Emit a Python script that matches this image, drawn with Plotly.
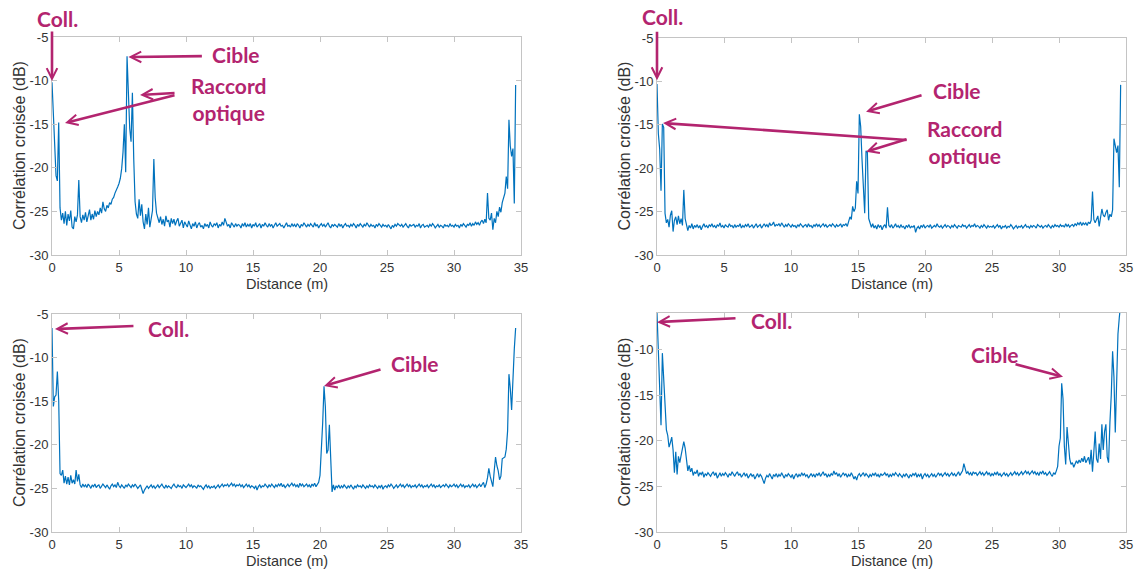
import plotly.graph_objects as go
from plotly.subplots import make_subplots

# ---------------- data ----------------
STEP_M = 0.1  # sampling step of the distance axis (m)

corr_a = [
    -10.2, -14.3, -17.8, -20.9, -21.5, -14.8, -24.6, -26.0, -25.2, -26.4,
    -25.0, -26.6, -25.3, -26.1, -24.9, -26.8, -27.0, -25.6, -26.2, -25.4,
    -21.4, -25.6, -26.3, -25.4, -26.0, -25.1, -26.2, -25.5, -24.8, -26.0,
    -25.3, -25.9, -24.9, -25.6, -25.0, -25.4, -24.6, -25.2, -23.9, -24.7,
    -25.0, -24.3, -24.6, -24.0, -24.2, -23.6, -23.4, -22.9, -22.6, -22.2,
    -21.8, -21.2, -20.1, -18.2, -15.0, -20.5, -7.2, -12.5, -15.5, -17.0,
    -11.4, -19.0, -23.9, -25.3, -25.8, -23.6, -25.5, -24.2, -26.2, -27.0,
    -25.3, -26.5, -24.6, -26.8, -25.7, -24.9, -19.0, -23.4, -25.2, -25.9,
    -26.3, -25.6, -26.5, -25.9, -26.7, -25.5, -26.2, -26.0, -26.8, -25.8,
    -26.4, -25.9, -26.6, -26.1, -25.8, -26.7, -26.3, -26.0, -26.9, -26.2,
    -26.5, -26.8, -26.1, -26.6, -27.0, -26.4, -26.7, -26.2, -26.9, -26.5,
    -26.3, -26.8, -26.6, -27.0, -26.4, -26.7, -26.5, -26.9, -26.2, -26.6,
    -26.8, -26.4, -26.6, -26.3, -26.9, -26.5, -26.7, -26.2, -26.6, -25.8,
    -26.4, -26.7, -26.5, -26.9, -26.3, -26.6, -26.8, -26.4, -26.7, -26.5,
    -26.6, -26.9, -26.4, -26.7, -26.3, -26.8, -26.5, -26.7, -26.4, -26.9,
    -26.5, -26.7, -26.3, -26.8, -26.6, -26.4, -26.9, -26.5, -26.7, -26.3,
    -26.6, -26.8, -26.4, -26.7, -26.5, -26.9, -26.6, -26.3, -26.7, -26.5,
    -26.4, -26.7, -26.6, -26.9, -26.5, -26.3, -26.7, -26.6, -26.8, -26.4,
    -26.7, -26.5, -26.8, -26.4, -26.6, -26.9, -26.5, -26.7, -26.3, -26.6,
    -26.8, -26.5, -26.7, -26.4, -26.6, -26.8, -26.3, -26.7, -26.5, -26.9,
    -26.6, -26.4, -26.7, -26.5, -26.8, -26.6, -26.3, -26.7, -26.9, -26.5,
    -26.7, -26.5, -26.6, -26.8, -26.4, -26.7, -26.5, -26.9, -26.6, -26.4,
    -26.7, -26.6, -26.8, -26.5, -26.7, -26.4, -26.6, -26.9, -26.5, -26.7,
    -26.4, -26.6, -26.8, -26.5, -26.7, -26.3, -26.6, -26.8, -26.5, -26.7,
    -26.6, -26.9, -26.5, -26.7, -26.4, -26.6, -26.8, -26.5, -26.7, -26.6,
    -26.8, -26.5, -26.7, -27.0, -26.6, -26.8, -26.5, -26.7, -26.4, -26.6,
    -26.7, -26.5, -26.8, -26.6, -26.4, -26.7, -26.9, -26.5, -26.7, -26.6,
    -26.5, -26.8, -26.6, -26.7, -26.4, -26.9, -26.6, -26.5, -26.8, -26.7,
    -26.6, -26.8, -26.5, -26.7, -26.4, -26.6, -26.9, -26.7, -26.5, -26.8,
    -26.6, -26.7, -26.9, -26.5, -26.7, -26.6, -26.8, -26.4, -26.7, -26.6,
    -26.8, -26.5, -26.7, -26.6, -26.9, -26.5, -26.7, -26.4, -26.6, -26.8,
    -26.5, -26.6, -26.3, -26.7, -26.4, -26.6, -26.2, -26.5, -26.3, -26.6,
    -26.2, -26.0, -26.4, -25.9, -26.3, -22.9, -25.8, -26.0, -25.2, -27.1,
    -25.8, -26.3, -25.0, -25.6, -24.5, -25.1, -24.0, -23.5, -22.9, -21.0,
    -22.4, -14.5, -17.5, -18.7, -17.8, -24.1, -10.5,
]

corr_b = [
    -10.3, -16.0, -17.8, -22.6, -14.9, -15.3, -25.2, -26.3, -25.9, -26.8,
    -25.4, -24.9, -27.3, -26.0, -25.6, -26.5, -25.5, -26.4, -25.8, -26.6,
    -22.5, -25.8, -26.5, -27.2, -26.6, -26.9, -26.4, -27.0, -26.6, -26.8,
    -26.5, -26.9, -26.6, -27.1, -26.7, -26.4, -26.8, -26.6, -26.9, -26.5,
    -26.7, -26.4, -26.8, -26.6, -26.9, -26.5, -26.7, -26.3, -26.8, -26.6,
    -26.9, -26.5, -26.7, -26.8, -26.4, -26.7, -26.6, -26.9, -26.5, -26.8,
    -26.6, -26.7, -26.4, -26.9, -26.6, -26.8, -26.5, -26.7, -26.4, -26.8,
    -26.7, -26.5, -26.9, -26.6, -26.4, -26.8, -26.7, -26.5, -26.9, -26.6,
    -26.4, -26.7, -26.5, -26.8, -26.3, -26.6, -26.5, -26.2, -26.7, -26.5,
    -26.6, -26.4, -26.7, -26.3, -26.6, -26.8, -26.5, -26.7, -26.4, -26.6,
    -26.8, -26.5, -26.7, -26.6, -26.9, -26.5, -26.7, -26.4, -26.6, -26.8,
    -26.6, -26.5, -26.8, -26.4, -26.7, -26.6, -26.9, -26.5, -26.7, -26.4,
    -26.7, -26.5, -26.8, -26.6, -26.4, -26.7, -26.5, -26.8, -26.6, -26.5,
    -26.7, -26.4, -26.6, -26.8, -26.5, -26.7, -26.6, -26.4, -26.8, -26.5,
    -26.6, -26.4, -26.7, -26.0, -25.6, -25.9, -24.4, -25.0, -24.6, -21.5,
    -22.9, -13.8, -15.2, -19.0, -22.1, -25.2, -18.0, -18.2, -25.8, -26.3,
    -26.8, -26.4, -26.9, -26.6, -27.0, -26.5, -26.8, -26.6, -27.1, -26.7,
    -26.5, -26.9, -24.5, -26.6, -26.8, -26.5, -26.9, -26.7, -26.4, -26.8,
    -26.6, -26.9, -26.5, -26.8, -26.7, -27.0, -26.6, -26.8, -26.5, -26.9,
    -26.7, -26.8, -26.6, -27.4, -26.9, -26.7, -27.0, -26.6, -26.8, -26.5,
    -26.9, -26.7, -26.6, -26.8, -26.5, -26.9, -26.7, -26.6, -26.8, -26.4,
    -26.7, -26.8, -26.6, -26.9, -26.7, -26.5, -26.8, -26.6, -26.7, -26.9,
    -26.6, -26.8, -26.5, -26.7, -26.9, -26.6, -26.7, -26.8, -26.5, -26.7,
    -26.6, -26.9, -26.7, -26.5, -26.8, -26.6, -26.7, -26.4, -26.8, -26.6,
    -26.7, -26.9, -26.6, -26.8, -26.5, -26.7, -26.9, -26.6, -26.8, -26.7,
    -26.8, -26.6, -26.9, -26.7, -26.5, -26.8, -26.6, -27.0, -26.7, -26.8,
    -26.6, -26.9, -26.7, -26.8, -26.5, -26.7, -27.0, -26.8, -26.6, -26.9,
    -26.7, -26.8, -26.6, -26.9, -26.7, -26.5, -26.8, -26.7, -26.9, -26.6,
    -26.8, -26.6, -26.7, -26.9, -26.5, -26.7, -26.8, -26.6, -26.9, -26.7,
    -26.6, -26.8, -26.5, -26.7, -26.9, -26.6, -26.8, -26.5, -26.7, -26.6,
    -26.8, -26.5, -26.7, -26.6, -26.8, -26.4, -26.7, -26.5, -26.8, -26.6,
    -26.5, -26.7, -26.4, -26.6, -26.3, -26.5, -26.2, -26.6, -26.3, -26.5,
    -26.3, -26.6, -26.2, -26.4, -26.0, -22.7, -25.9, -26.3, -25.8, -25.5,
    -26.7, -25.8, -24.7, -25.4, -25.6, -25.1, -24.8, -26.0, -25.3, -25.6,
    -24.8, -16.6, -17.4, -18.2, -17.4, -22.2, -10.4,
]

corr_c = [
    -6.6, -15.6, -14.5, -14.3, -11.6, -14.9, -23.3, -23.5, -22.9, -24.4,
    -23.6, -24.5, -23.7, -24.6, -23.5, -24.4, -24.0, -24.5, -22.9, -24.2,
    -23.4, -24.6, -24.9, -24.5, -24.8, -24.6, -24.9, -24.5, -24.7, -25.0,
    -24.6, -24.8, -24.5, -24.9, -24.7, -24.6, -25.0, -24.8, -24.5, -24.7,
    -24.9, -24.6, -24.8, -25.1, -24.7, -24.5, -24.8, -24.6, -24.9, -24.3,
    -24.7, -24.9, -24.6, -24.8, -25.0, -24.6, -24.8, -24.5, -24.7, -24.9,
    -24.6, -24.8, -24.5, -24.7, -25.0, -24.8, -24.6, -25.1, -25.6, -25.2,
    -24.9, -24.7, -25.0, -24.8, -24.6, -24.9, -24.7, -25.0, -24.8, -24.6,
    -24.9, -24.7, -24.5, -24.8, -25.0, -24.6, -24.9, -24.7, -24.8, -25.0,
    -24.7, -24.5, -24.8, -24.9, -24.6, -24.8, -24.7, -25.0, -24.6, -24.8,
    -24.9, -24.7, -24.5, -24.8, -24.6, -24.9, -24.7, -24.8, -25.0, -24.6,
    -24.8, -24.7, -24.9, -25.1, -24.8, -24.6, -24.9, -24.7, -25.0, -24.8,
    -24.9, -24.7, -25.0, -24.8, -24.6, -24.9, -24.7, -24.5, -24.8, -24.6,
    -24.7, -24.5, -24.8, -24.6, -24.4, -24.7, -24.5, -24.8, -24.6, -24.7,
    -24.5, -24.8, -24.6, -24.9, -24.7, -24.5, -24.8, -24.6, -24.9, -24.7,
    -24.8, -25.0, -24.7, -25.2, -24.8, -24.6, -24.9, -24.7, -24.8, -24.5,
    -24.7, -24.9, -24.6, -24.8, -24.5, -24.7, -24.9, -24.6, -24.8, -24.5,
    -24.7, -24.4, -24.8, -24.6, -24.9, -24.7, -24.5, -24.8, -24.6, -24.4,
    -24.7, -24.5, -24.8, -24.6, -24.9, -24.4, -24.7, -24.5, -24.8, -24.6,
    -24.5, -24.8, -24.6, -24.9, -24.5, -24.7, -24.4, -24.8, -24.6, -24.3,
    -23.5, -21.0, -17.5, -13.3, -15.6, -21.0, -20.6, -17.7, -22.1, -25.4,
    -24.6, -25.2, -24.7, -24.9, -24.6, -25.0, -24.7, -24.9, -24.6, -24.8,
    -25.0, -24.7, -24.9, -24.6, -24.8, -25.1, -24.7, -24.9, -24.6, -24.8,
    -24.7, -24.9, -24.6, -24.8, -25.0, -24.7, -24.9, -24.6, -24.8, -24.7,
    -24.9, -24.6, -24.8, -25.0, -24.7, -24.9, -24.6, -25.1, -24.8, -24.7,
    -24.9, -24.6, -24.8, -24.5, -24.7, -25.0, -24.8, -24.6, -24.9, -24.7,
    -24.5, -24.8, -24.6, -24.9, -24.7, -24.5, -24.8, -24.6, -24.9, -24.7,
    -24.8, -24.6, -24.9, -24.7, -24.5, -24.8, -24.6, -24.9, -24.7, -24.8,
    -24.6, -24.9, -24.7, -24.5, -24.8, -24.6, -24.9, -24.7, -24.8, -24.6,
    -24.9, -24.7, -24.6, -24.8, -24.5, -24.7, -24.9, -24.6, -24.8, -24.7,
    -24.5, -24.8, -24.6, -24.9, -24.7, -24.5, -24.8, -24.6, -24.9, -24.7,
    -24.8, -24.6, -24.9, -24.7, -24.5, -24.8, -24.6, -24.9, -24.7, -24.5,
    -24.8, -24.6, -24.3, -24.9, -24.5, -23.8, -22.7, -23.6, -24.2, -24.8,
    -23.0, -21.4, -22.4, -23.0, -24.0, -23.6, -21.6, -21.5, -21.4, -20.5,
    -18.4, -11.9, -13.5, -16.0, -12.1, -9.0, -6.6,
]

corr_d = [
    -6.0, -10.5, -12.8, -18.3, -10.4, -13.0, -16.2, -18.8, -19.4, -20.7,
    -20.2, -19.6, -21.0, -23.5, -21.2, -23.7, -21.7, -22.4, -21.6, -20.6,
    -20.1, -20.8, -22.4, -23.3, -22.7, -23.4, -23.0, -23.8, -23.4, -23.6,
    -23.2, -23.9, -23.5, -23.7, -23.4, -24.0, -23.6, -23.8, -23.5, -23.7,
    -23.9, -23.6, -23.4, -23.8, -23.5, -24.1, -23.7, -23.5, -23.9, -23.6,
    -23.8, -23.5, -23.7, -24.0, -23.6, -23.8, -23.4, -23.7, -23.9, -23.6,
    -23.4, -23.8, -23.6, -24.0, -23.7, -23.5, -23.9, -23.6, -24.1, -23.8,
    -23.6, -23.9, -23.7, -24.2, -23.8, -23.6, -24.0, -23.7, -23.9, -24.3,
    -24.7, -24.1, -23.8, -24.0, -23.6, -23.9, -24.2, -23.7, -23.9, -23.6,
    -24.0, -23.7, -23.9, -23.5, -23.8, -24.1, -23.7, -23.9, -23.6, -23.8,
    -24.0, -23.7, -24.2, -23.8, -23.6, -24.0, -23.7, -23.9, -23.5, -23.8,
    -23.6, -23.9, -23.7, -24.1, -23.8, -23.6, -23.9, -23.7, -24.0, -23.6,
    -23.8, -23.5, -23.9, -23.7, -23.4, -23.8, -23.6, -24.0, -23.7, -23.9,
    -23.6, -23.8, -23.3, -23.7, -23.5, -23.9, -23.6, -24.0, -23.7, -23.5,
    -23.8, -23.6, -24.0, -23.7, -23.9, -23.5, -23.8, -24.2, -23.9, -24.3,
    -23.8, -23.6, -23.9, -23.7, -23.5, -23.9, -23.6, -23.8, -24.0, -23.7,
    -23.9, -23.6, -23.8, -23.5, -23.9, -23.7, -24.0, -23.6, -23.8, -23.7,
    -23.5, -23.8, -23.6, -24.0, -23.7, -23.9, -23.6, -23.8, -23.5, -23.7,
    -23.9, -23.6, -23.8, -24.0, -23.7, -23.9, -23.6, -23.8, -24.1, -23.7,
    -23.9, -23.6, -23.8, -23.5, -24.0, -23.7, -23.9, -23.6, -24.2, -23.8,
    -23.6, -23.9, -23.7, -24.0, -23.8, -23.6, -23.9, -23.7, -24.0, -23.8,
    -23.5, -23.8, -23.6, -23.9, -23.7, -23.5, -23.8, -23.6, -23.9, -23.7,
    -23.5, -23.8, -23.6, -23.9, -23.7, -23.4, -23.8, -23.6, -23.3, -22.5,
    -23.2, -23.6, -23.4, -23.7, -23.5, -23.8, -23.4, -23.6, -23.5, -23.8,
    -23.6, -23.4, -23.7, -23.5, -23.8, -23.6, -23.4, -23.7, -23.5, -23.9,
    -23.6, -23.8, -23.5, -23.7, -23.4, -23.8, -23.6, -23.9, -23.7, -23.5,
    -23.8, -23.6, -23.9, -23.7, -23.5, -23.8, -23.6, -23.4, -23.7, -23.5,
    -23.8, -23.6, -23.4, -23.7, -23.5, -23.3, -23.6, -23.4, -23.7, -23.5,
    -23.3, -23.6, -23.4, -23.7, -23.5, -23.8, -23.4, -23.6, -23.3, -23.7,
    -23.5, -23.8, -23.6, -23.4, -23.7, -23.9, -23.5, -23.7, -23.3, -22.8,
    -20.6, -19.7, -13.7, -15.4, -20.6, -22.6, -18.5, -20.6, -22.0, -22.6,
    -22.4, -22.9, -22.6, -22.2, -22.5, -22.1, -22.4, -21.9, -22.3, -21.7,
    -22.4, -22.0, -21.8, -22.6, -21.0, -23.4, -21.5, -19.0, -22.0, -22.4,
    -20.3, -22.0, -18.2, -21.0, -19.0, -18.2, -21.8, -22.4, -18.0, -15.0,
    -10.2, -13.0, -19.1, -12.6, -8.3, -6.5, -5.0,
]

x_ticks = [0, 5, 10, 15, 20, 25, 30, 35]
y_ticks = [-30, -25, -20, -15, -10, -5]
y_ranges = [[-30, -5], [-30, -5], [-30, -5], [-30, -6]]
series = [corr_a, corr_b, corr_c, corr_d]

x_label = "Distance (m)"
y_label = "Corrélation croisée (dB)"

# ---------------- figure ----------------
W, H = 1137, 570
LINE = "#0072BD"
MAG = "#B3246F"
AXC = "#c4c4c4"
TXT = "#333333"
FONT = "Liberation Sans, Arial, sans-serif"
AFONT = "Lato, Open Sans, sans-serif"

fig = make_subplots(rows=2, cols=2)

# plot-area boxes in pixels: (left, right, top, bottom)
boxes = [(52, 521, 37, 255), (657, 1126, 38, 255),
         (52, 521, 314, 532), (657, 1126, 313, 532)]
cells = [(1, 1), (1, 2), (2, 1), (2, 2)]

for k, (ys, (r, c), box, yr) in enumerate(zip(series, cells, boxes, y_ranges)):
    dist = [round(i * STEP_M, 1) for i in range(len(ys))]
    fig.add_trace(go.Scatter(x=dist, y=ys, mode="lines",
                             line=dict(color=LINE, width=1.2),
                             showlegend=False, hoverinfo="skip"),
                  row=r, col=c)
    l, rr, t, b = box
    n = "" if k == 0 else str(k + 1)
    fig.layout["xaxis" + n].update(
        domain=[l / W, rr / W], range=[0, 35], tickvals=x_ticks,
        ticktext=[str(v) for v in x_ticks], automargin=False,
        showline=True, mirror="ticks", linecolor=AXC, linewidth=1,
        ticks="inside", ticklen=5, tickcolor=AXC, showgrid=False,
        zeroline=False, tickfont=dict(family=FONT, size=13, color=TXT))
    fig.layout["yaxis" + n].update(
        domain=[1 - b / H, 1 - t / H], range=yr, tickvals=y_ticks,
        ticktext=[str(v) for v in y_ticks], automargin=False,
        showline=True, mirror="ticks", linecolor=AXC, linewidth=1,
        ticks="inside", ticklen=5, tickcolor=AXC, showgrid=False,
        zeroline=False, tickfont=dict(family=FONT, size=13, color=TXT))
    # axis titles
    fig.add_annotation(text=x_label, xref="paper", yref="paper",
                       x=(l + rr) / 2 / W, y=1 - (b + 29) / H,
                       xanchor="center", yanchor="middle", showarrow=False,
                       font=dict(family=FONT, size=14.5, color=TXT))
    fig.add_annotation(text=y_label, xref="paper", yref="paper",
                       x=(l - 33) / W, y=1 - (t + b) / 2 / H, textangle=-90,
                       xanchor="center", yanchor="middle", showarrow=False,
                       font=dict(family=FONT, size=16, color=TXT))


def label(txt, px, py):
    fig.add_annotation(text="<b>" + txt + "</b>", xref="paper", yref="paper",
                       x=px / W, y=1 - py / H, xanchor="center",
                       yanchor="middle", showarrow=False,
                       font=dict(family=AFONT, size=21, color=MAG))


def arrow(axn, hx, hy, dx, dy):
    fig.add_annotation(text="", xref="x" + axn, yref="y" + axn, x=hx, y=hy,
                       ax=dx, ay=dy, showarrow=True, arrowhead=5,
                       arrowsize=0.8, arrowwidth=2.6, arrowcolor=MAG)


# panel 1
label("Coll.", 57, 19)
label("Cible", 236, 55)
label("Raccord<br>optique", 228, 99)
arrow("", 0, -10.05, 0, -51)
arrow("", 5.7, -7.3, 75, -1)
arrow("", 6.57, -11.65, 36, -2)
arrow("", 0.97, -14.86, 111, -28)
# panel 2
label("Coll.", 662, 17)
label("Cible", 957, 90)
label("Raccord<br>optique", 964, 142)
arrow("2", 0, -9.86, 0, -50)
arrow("2", 15.6, -13.5, 57, -17)
arrow("2", 15.6, -18.1, 42, -13)
arrow("2", 0.45, -14.8, 245, 17)
# panel 3
label("Coll.", 168, 328)
label("Cible", 415, 363)
arrow("3", 0.22, -6.72, 80, -3)
arrow("3", 20.3, -13.26, 58, -17)
# panel 4
label("Coll.", 771, 320)
label("Cible", 995, 354)
arrow("4", 0, -7.0, 80, -4)
arrow("4", 30.3, -13.0, -49, -13)

fig.update_layout(width=W, height=H,
                  margin=dict(l=0, r=0, t=0, b=0, autoexpand=False),
                  paper_bgcolor="white", plot_bgcolor="white",
                  font=dict(family=FONT, color=TXT))

fig.write_html("out.html",
               config={"displayModeBar": False},
               post_script="document.body.style.margin='0px';"
                           "document.body.style.overflow='hidden';")
